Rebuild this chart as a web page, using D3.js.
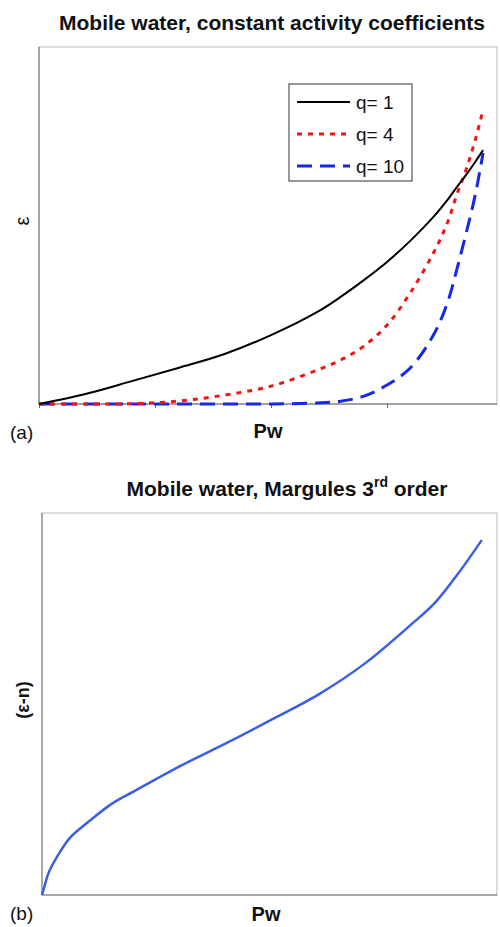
<!DOCTYPE html>
<html>
<head>
<meta charset="utf-8">
<script src="https://cdn.jsdelivr.net/npm/d3@7"></script>
<style>
  body { margin: 0; background: #fff; }
  text { font-family: "Liberation Sans", Arial, sans-serif; fill: #111; }
</style>
</head>
<body>
<script>
// panel (a): mobile water, constant activity coefficients
var pwA = [0, 0.1, 0.2, 0.3, 0.4, 0.5, 0.6, 0.65, 0.7, 0.75, 0.8, 0.85, 0.88, 0.9, 0.92, 0.94, 0.957];
var q1  = [0, 0.028, 0.064, 0.101, 0.140, 0.193, 0.258, 0.300, 0.347, 0.398, 0.457, 0.524, 0.571, 0.607, 0.641, 0.678, 0.711];
var q4  = [0, 0, 0.001, 0.008, 0.025, 0.050, 0.095, 0.123, 0.162, 0.221, 0.311, 0.423, 0.507, 0.585, 0.655, 0.739, 0.824];
var q10 = [0, 0, 0, 0, 0, 0, 0.003, 0.008, 0.022, 0.053, 0.101, 0.193, 0.283, 0.375, 0.476, 0.585, 0.703];
var seriesNames = ["q= 1", "q= 4", "q= 10"];
var xTicksA = [0, 0.25, 0.5, 0.75];

// panel (b): mobile water, Margules 3rd order
var pwB = [0, 0.005, 0.015, 0.035, 0.06, 0.1, 0.15, 0.2, 0.3, 0.4, 0.5, 0.6, 0.7, 0.8, 0.85, 0.9, 0.952];
var epsN = [0, 0.021, 0.060, 0.105, 0.149, 0.191, 0.238, 0.272, 0.338, 0.398, 0.461, 0.526, 0.607, 0.709, 0.764, 0.840, 0.929];

var svg = d3.select("body").append("svg")
  .attr("width", 500)
  .attr("height", 927);

// ---------- panel (a) ----------
var a = {left: 39, right: 497, top: 47, bottom: 404};
var xA = d3.scaleLinear().domain([0, 0.987]).range([a.left, a.right]);
var yA = d3.scaleLinear().domain([0, 1]).range([a.bottom, a.top]);

svg.append("rect")
  .attr("x", a.left).attr("y", a.top)
  .attr("width", a.right - a.left).attr("height", a.bottom - a.top)
  .attr("fill", "none").attr("stroke", "#bbb").attr("stroke-width", 1);
svg.append("line")
  .attr("x1", a.left).attr("x2", a.left).attr("y1", a.top).attr("y2", a.bottom)
  .attr("stroke", "#666");

var axA = svg.append("g")
  .attr("transform", "translate(0," + a.bottom + ")")
  .call(d3.axisBottom(xA).tickValues(xTicksA).tickSize(4).tickFormat(""));
axA.select(".domain").attr("stroke", "#666").attr("d", "M" + a.left + ",0H" + a.right);
axA.selectAll(".tick line").attr("stroke", "#666");

var lineA = function(vals) {
  return d3.line()
    .x(function(d, i) { return xA(pwA[i]); })
    .y(function(d) { return yA(d); })
    .curve(d3.curveCatmullRom.alpha(0.5))(vals);
};
var styles = [
  {data: q1, color: "#000", width: 2, dash: null},
  {data: q4, color: "#f01414", width: 3, dash: "5,6"},
  {data: q10, color: "#1428e6", width: 3, dash: "15,8"}
];
// blue first, then red, then black on top
[2, 1, 0].forEach(function(k) {
  var s = styles[k];
  svg.append("path")
    .attr("d", lineA(s.data))
    .attr("fill", "none")
    .attr("stroke", s.color)
    .attr("stroke-width", s.width)
    .attr("stroke-dasharray", s.dash);
});

// legend
var leg = svg.append("g");
leg.append("rect")
  .attr("x", 289).attr("y", 84).attr("width", 123).attr("height", 97)
  .attr("fill", "#fff").attr("stroke", "#333").attr("stroke-width", 1);
styles.forEach(function(s, i) {
  var ly = 102 + i * 32;
  leg.append("line")
    .attr("x1", 297).attr("x2", 350).attr("y1", ly).attr("y2", ly)
    .attr("stroke", s.color).attr("stroke-width", s.width)
    .attr("stroke-dasharray", s.dash);
  leg.append("text")
    .attr("x", 356).attr("y", ly + 7)
    .attr("font-size", 19)
    .text(seriesNames[i]);
});

svg.append("text")
  .attr("x", 272).attr("y", 30)
  .attr("text-anchor", "middle")
  .attr("font-size", 21).attr("font-weight", "bold")
  .text("Mobile water, constant activity coefficients");
svg.append("text")
  .attr("x", 268).attr("y", 438)
  .attr("text-anchor", "middle")
  .attr("font-size", 20).attr("font-weight", "bold")
  .text("Pw");
svg.append("text")
  .attr("x", 10).attr("y", 439)
  .attr("font-size", 19)
  .text("(a)");
svg.append("text")
  .attr("transform", "translate(29,221) rotate(-90)")
  .attr("text-anchor", "middle")
  .attr("font-size", 20)
  .text("ε");

// ---------- panel (b) ----------
var b = {left: 42, right: 497, top: 513, bottom: 895};
var xB = d3.scaleLinear().domain([0, 0.985]).range([b.left, b.right]);
var yB = d3.scaleLinear().domain([0, 1]).range([b.bottom, b.top]);

svg.append("rect")
  .attr("x", b.left).attr("y", b.top)
  .attr("width", b.right - b.left).attr("height", b.bottom - b.top)
  .attr("fill", "none").attr("stroke", "#bbb").attr("stroke-width", 1);
svg.append("line")
  .attr("x1", b.left).attr("x2", b.left).attr("y1", b.top).attr("y2", b.bottom)
  .attr("stroke", "#777");

var axB = svg.append("g")
  .attr("transform", "translate(0," + b.bottom + ")")
  .call(d3.axisBottom(xB).tickValues([]));
axB.select(".domain").attr("stroke", "#777").attr("d", "M" + b.left + ",0H" + b.right);

svg.append("path")
  .attr("d", d3.line()
    .x(function(d, i) { return xB(pwB[i]); })
    .y(function(d) { return yB(d); })
    .curve(d3.curveCatmullRom.alpha(0.5))(epsN))
  .attr("fill", "none")
  .attr("stroke", "#3a5ee6")
  .attr("stroke-width", 2.5);

var tb = svg.append("text")
  .attr("x", 287).attr("y", 496)
  .attr("text-anchor", "middle")
  .attr("font-size", 21).attr("font-weight", "bold");
tb.append("tspan").text("Mobile water, Margules 3");
tb.append("tspan").attr("dy", -9).attr("font-size", 14).text("rd");
tb.append("tspan").attr("dy", 9).text(" order");

svg.append("text")
  .attr("x", 266).attr("y", 921)
  .attr("text-anchor", "middle")
  .attr("font-size", 20).attr("font-weight", "bold")
  .text("Pw");
svg.append("text")
  .attr("x", 10).attr("y", 920)
  .attr("font-size", 19)
  .text("(b)");
svg.append("text")
  .attr("transform", "translate(29,700) rotate(-90)")
  .attr("text-anchor", "middle")
  .attr("font-size", 18).attr("font-weight", "bold")
  .text("(ε-n)");
</script>
</body>
</html>
